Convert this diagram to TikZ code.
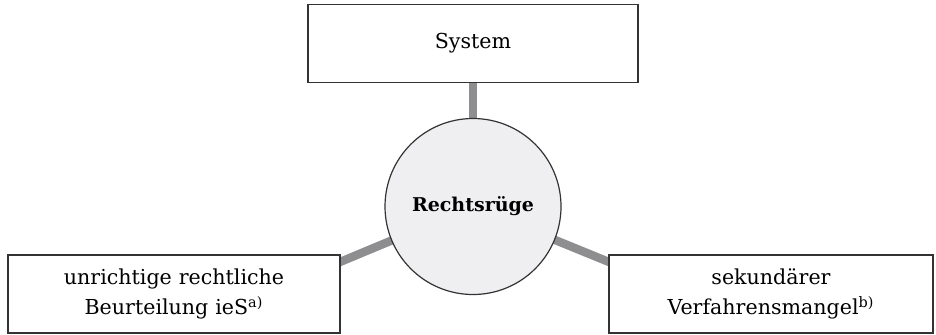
\documentclass[tikz,border=0pt]{standalone}
\usepackage{fontspec}
\setmainfont{DejaVu Serif}
\usetikzlibrary{positioning, backgrounds}
\definecolor{linkgray}{HTML}{8E8E90}
\definecolor{hubgray}{HTML}{EFEFF1}
\tikzset{
  box/.style={rectangle, draw=black!80, fill=white, line width=0.6pt, minimum height=39pt, text width=150pt, align=center, inner sep=0pt, font=\fontsize{10.3}{15}\selectfont},
  hub/.style={circle, draw=black!80, fill=hubgray, line width=0.6pt, minimum size=88pt, inner sep=0pt, font=\fontsize{9.5}{12}\selectfont\bfseries},
  link/.style={line width=4.2pt, draw=linkgray}
}

\begin{document}
\begin{tikzpicture}[x=0.5pt, y=-0.5pt]
    \useasboundingbox (0,0) rectangle (936,334);
    \node (system) [box, minimum width=165pt] at (473,43.5) {System};
    \node (ruege) [hub] at (473,206.5) {Rechtsrüge};
    \node (beurteilung) [box, minimum width=166pt] at (174,294) {unrichtige rechtliche\\ Beurteilung ieS\textsuperscript{a)}};
    \node (mangel) [box, minimum width=162pt] at (771,294) {sekundärer\\ Verfahrensmangel\textsuperscript{b)}};

    \begin{scope}[on background layer]
      \draw [link] (ruege.center) -- (system);
      \draw [link] (ruege.center) -- ([xshift=-2pt, yshift=-4.5pt]beurteilung.north east);
      \draw [link] (ruege.center) -- ([xshift=2pt, yshift=-4.5pt]mangel.north west);
    \end{scope}
  \end{tikzpicture}
\end{document}
